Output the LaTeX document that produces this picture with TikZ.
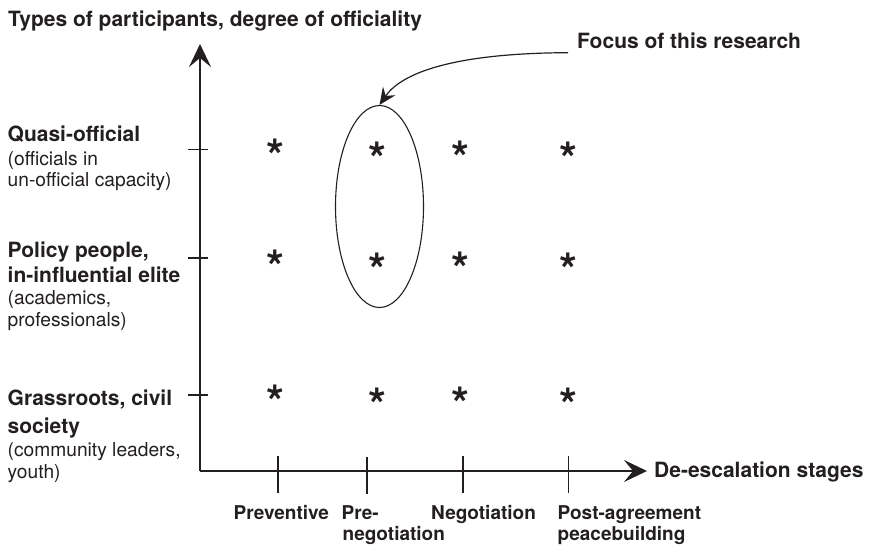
\documentclass[tikz,border=0pt]{standalone}
\usepackage{fontspec}
\setmainfont{TeX Gyre Heros}
\usetikzlibrary{arrows.meta,shapes.geometric}
\definecolor{ink}{RGB}{35,31,32}
\begin{document}
\begin{tikzpicture}[x=1pt,y=-1pt,
  every node/.style={text=ink},
  bl/.style={font=\fontsize{21}{24}\selectfont\bfseries, inner sep=0, anchor=base west},
  rl/.style={font=\fontsize{19.2}{22}\selectfont, inner sep=0, anchor=base west},
  sl/.style={font=\fontsize{19}{22}\selectfont\bfseries, inner sep=0, anchor=base west},
  axis/.style={draw=ink, line width=1.8pt, -{Stealth[length=23pt,width=22pt,inset=9pt]}},
  tickline/.style={draw=ink, line width=1.6pt},
  starmark/.style={font=\fontsize{46}{46}\selectfont\bfseries, inner sep=0, anchor=base},
  focusring/.style={draw=ink, ellipse, line width=1.1pt, minimum width=88pt, minimum height=202pt, inner sep=0},
  pointer/.style={draw=ink, line width=1.2pt, -{Stealth[length=17pt,width=15pt,inset=6pt]}}
]
\useasboundingbox (0,0) rectangle (870,547);

% titles
\node[bl] (title) at (8,26) {Types of participants, degree of officiality};
\node[bl] (focustext) at (577,48.3) {Focus of this research};

% axes
\coordinate (o) at (200,471);
\coordinate (ytip) at (200,44);
\coordinate (xtip) at (647,471);
\draw[axis] (o) -- (ytip);
\draw[axis] (o) -- (xtip);
\node[bl] (xlabel) at (654,477) {De-escalation stages};

% y ticks
\draw[tickline] (188,149.3) -- (208,149.3);
\draw[tickline] (188,258) -- (208,258);
\draw[tickline] (188,395) -- (208,395);

% x ticks
\draw[tickline] (277.7,456) -- (277.7,493);
\draw[tickline] (366.7,457) -- (366.7,494);
\draw[tickline] (462.7,456) -- (462.7,493);
\draw[tickline] (568.3,456) -- (568.3,493);

% left labels
\node[bl] (q1) at (7.5,141.7) {Quasi-official};
\node[rl] (q2) at (7.5,165) {(officials in};
\node[rl] (q3) at (7.5,186.7) {un-official capacity)};

\node[bl] (p1) at (7.5,257) {Policy people,};
\node[bl] (p2) at (7.5,282.3) {in-influential elite};
\node[rl] (p3) at (7.5,304) {(academics,};
\node[rl] (p4) at (7.5,326.7) {professionals)};

\node[bl] (g1) at (7.5,405.7) {Grassroots, civil};
\node[bl] (g2) at (7.5,433.3) {society};
\node[rl] (g3) at (7.5,456.7) {(community leaders,};
\node[rl] (g4) at (7.5,478.3) {youth)};

% bottom labels
\node[sl] (s1) at (233.5,519) {Preventive};
\node[sl] (s2a) at (341.5,519) {Pre-};
\node[sl] (s2b) at (342.5,540.5) {negotiation};
\node[sl] (s3) at (431,519) {Negotiation};
\node[sl] (s4a) at (557.5,519) {Post-agreement};
\node[sl] (s4b) at (557.5,540.5) {peacebuilding};

% stars
\foreach \sx/\sy [count=\i] in {275/146.7, 377.7/149.3, 460.7/148.3, 568.3/149.3,
                       275/257.3, 377.7/260, 460.7/259.3, 568.3/260,
                       275/392.7, 377.7/395, 460.7/394.3, 568.3/395}
  \node[starmark] (star\i) at (\sx,\sy+26) {*};

% focus ellipse and pointer
\node[focusring] (focus) at (379.5,206.5) {};
\coordinate (cstart) at (568,52.7);
\draw[pointer] (cstart) .. controls (470,53) and (405,68) .. (focus.north);
\end{tikzpicture}
\end{document}
